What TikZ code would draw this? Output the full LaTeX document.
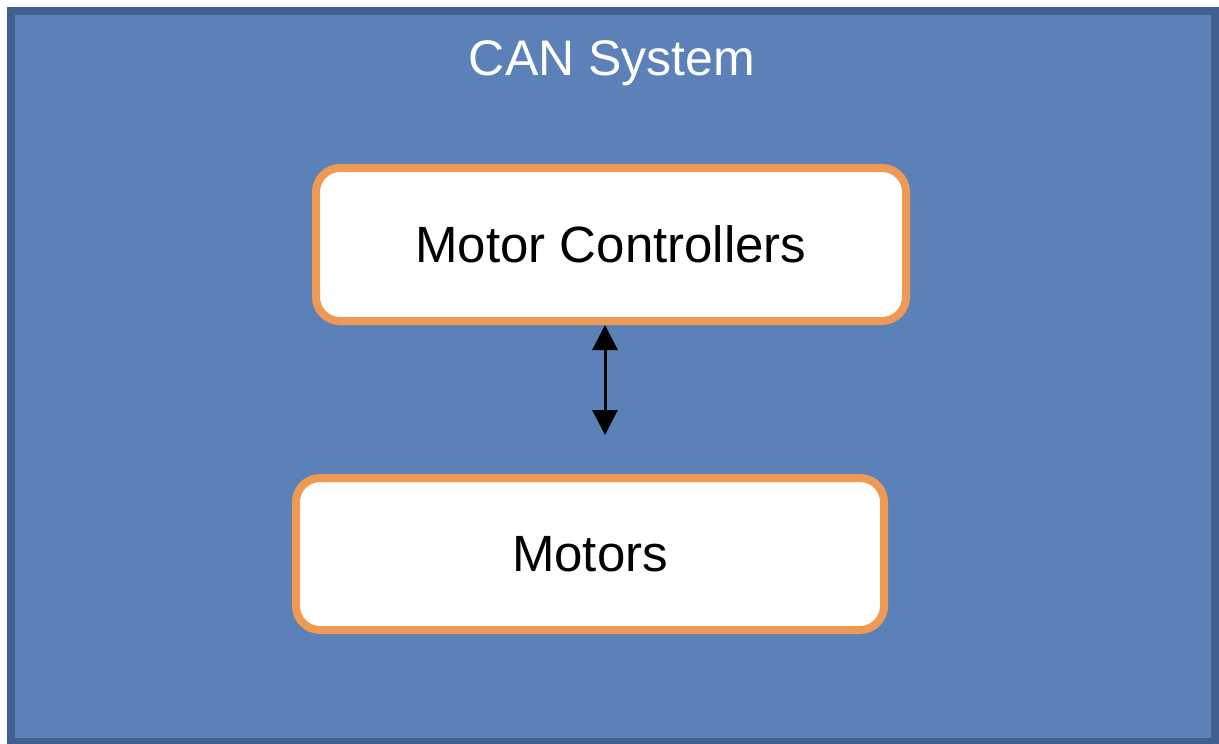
\documentclass[tikz,border=0pt]{standalone}
\usepackage{fontspec}
\setmainfont{Liberation Sans}
\usetikzlibrary{arrows.meta}
\definecolor{panelfill}{HTML}{5B81B8}
\definecolor{panelline}{HTML}{3F6090}
\definecolor{boxline}{HTML}{EE9A55}
\tikzset{
  panel/.style={draw=panelline, fill=panelfill, line width=8pt},
  unit/.style={draw=boxline, fill=white, line width=8pt, rounded corners=24pt,
    font=\fontsize{51}{60}\selectfont, text=black, inner sep=0pt},
  link/.style={line width=3pt, {Triangle[length=25pt,width=25pt]}-{Triangle[length=25pt,width=25pt]}}
}
\begin{document}
\begin{tikzpicture}[x=1pt,y=-1pt]
  \useasboundingbox (0,0) rectangle (1219,744);
  \fill[white] (0,0) rectangle (1219,744);
  % outer system panel
  \draw[panel] (11,11) rectangle (1215,742);
  \node[font=\fontsize{50}{60}\selectfont, text=white, anchor=base] (title) at (612,75) {CAN System};
  % component boxes
  \node[unit, minimum width=590pt, minimum height=153pt] (mc) at (611,244.5) {Motor Controllers};
  \node[unit, minimum width=588pt, minimum height=152pt] (mo) at (590,554) {Motors};
  % bidirectional link
  \coordinate (lo) at (605,435);
  \draw[link] (mc.south -| lo) -- (lo);
\end{tikzpicture}
\end{document}
